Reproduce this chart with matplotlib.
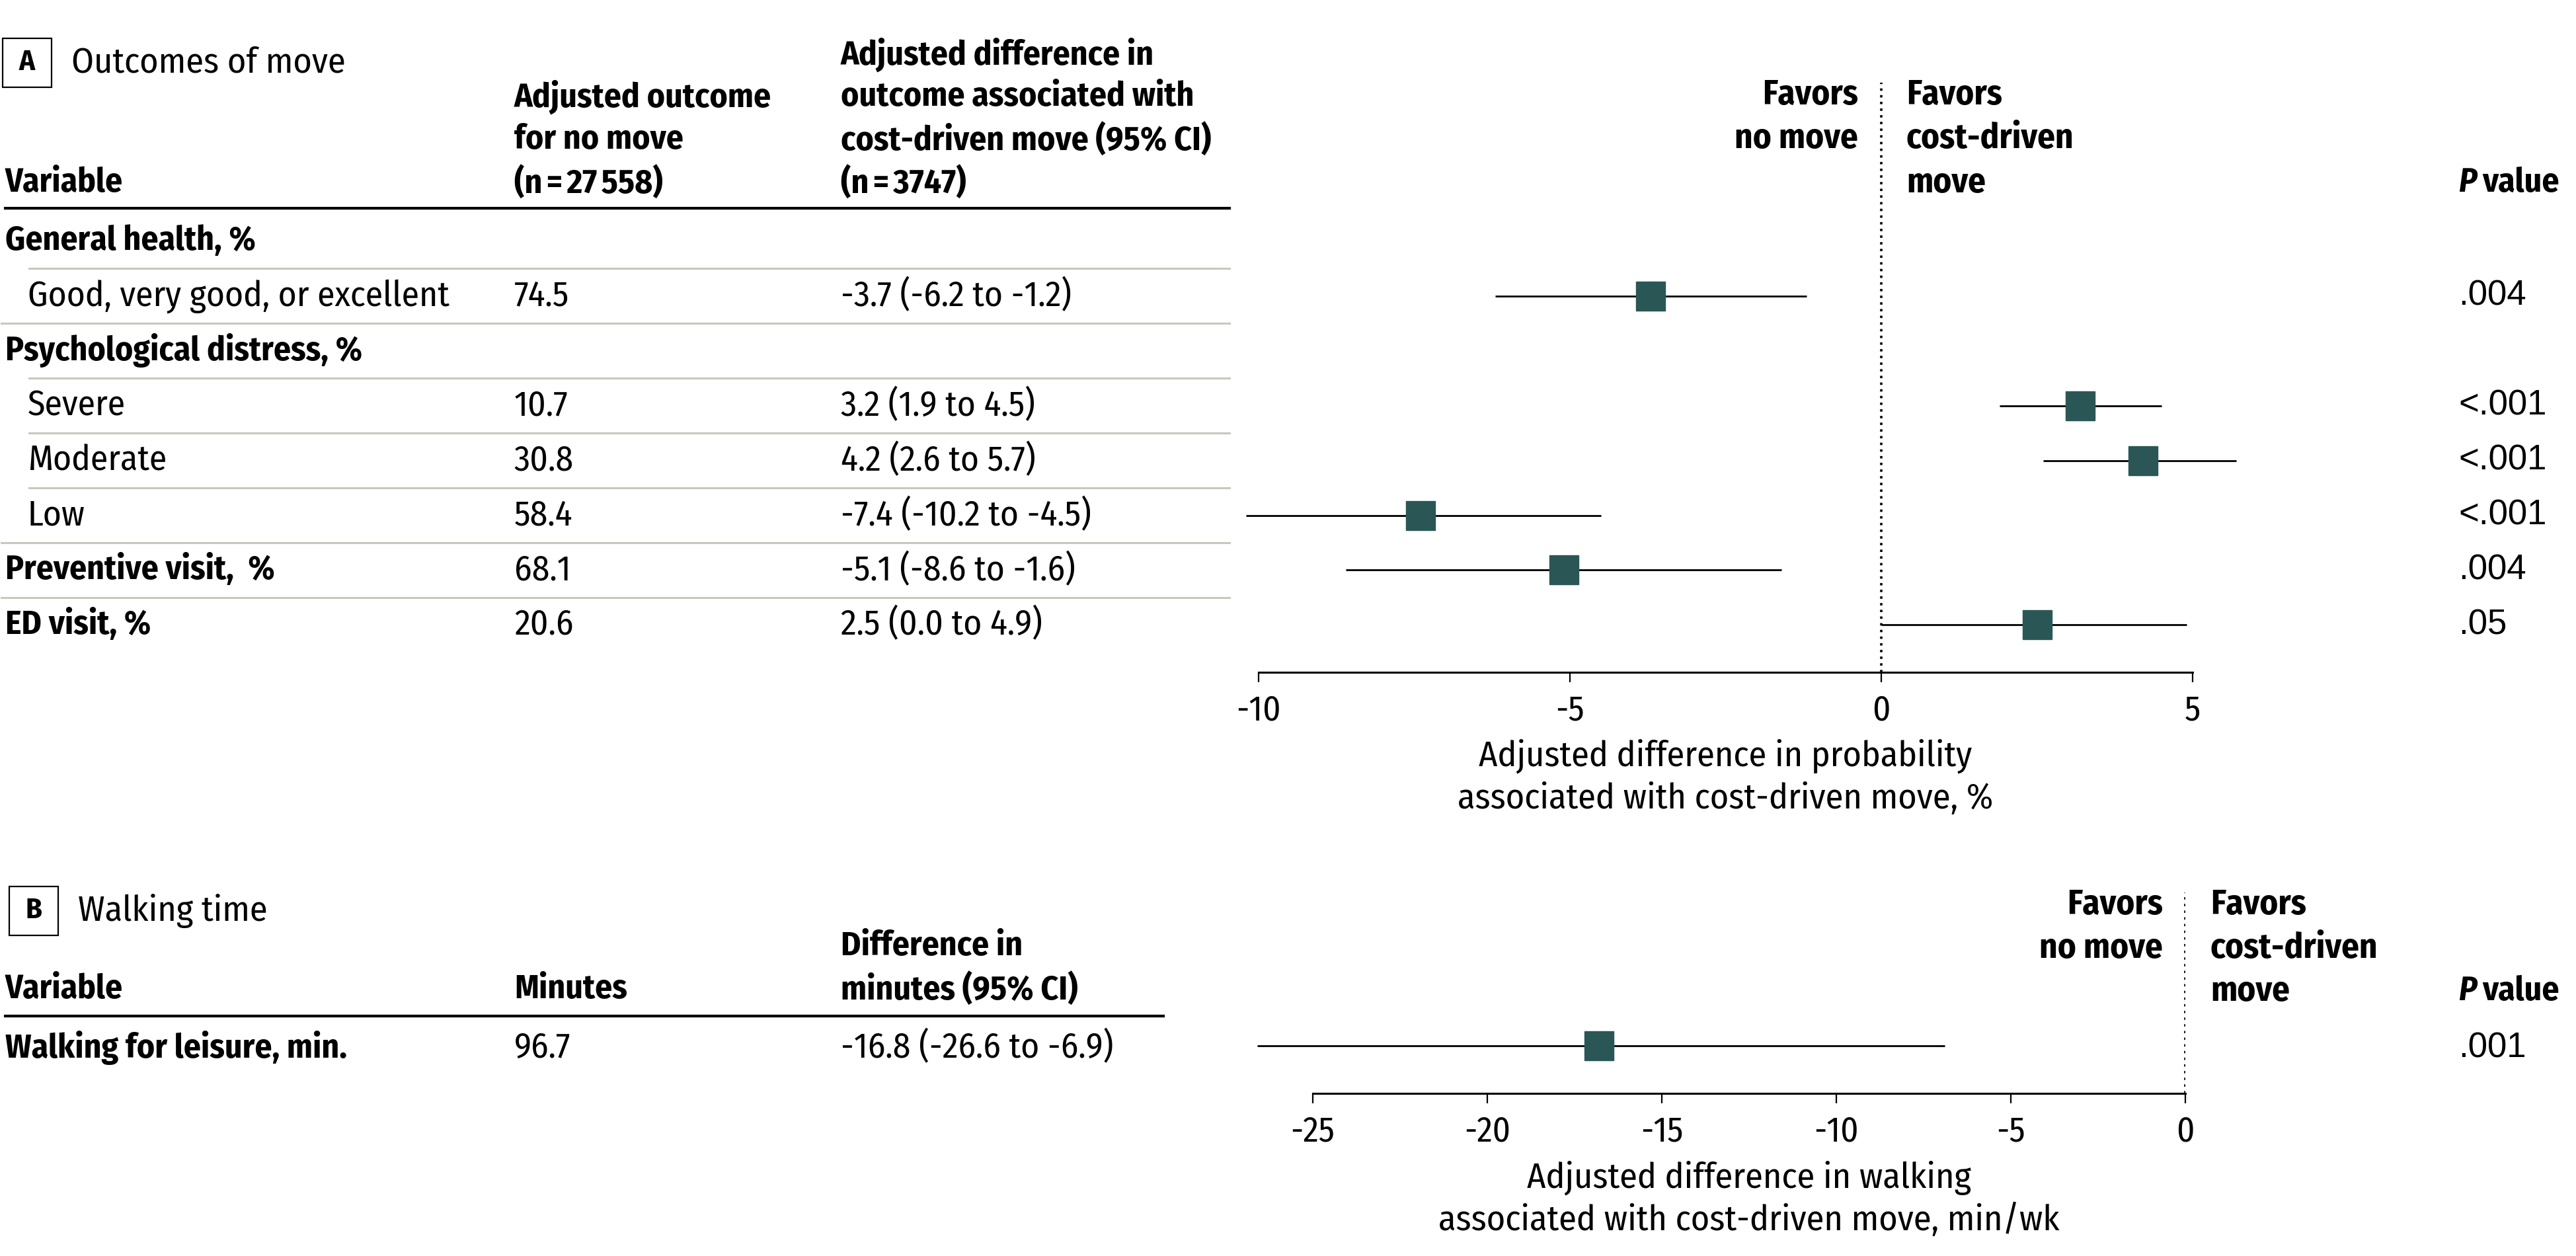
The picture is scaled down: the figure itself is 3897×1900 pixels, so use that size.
import numpy as np
import matplotlib
matplotlib.use("Agg")
import matplotlib.pyplot as plt
from matplotlib.patches import Rectangle

# panel A data
labels = ["General health, %", "Good, very good, or excellent", "Psychological distress, %",
          "Severe", "Moderate", "Low", "Preventive visit,  %", "ED visit, %"]
is_group = [True, False, True, False, False, False, True, True]
no_move = ["", "74.5", "", "10.7", "30.8", "58.4", "68.1", "20.6"]
est = [np.nan, -3.7, np.nan, 3.2, 4.2, -7.4, -5.1, 2.5]
lo = [np.nan, -6.2, np.nan, 1.9, 2.6, -10.2, -8.6, 0.0]
hi = [np.nan, -1.2, np.nan, 4.5, 5.7, -4.5, -1.6, 4.9]
pvals = ["", ".004", "", "<.001", "<.001", "<.001", ".004", ".05"]
ticks_a = [-10, -5, 0, 5]

# panel B data
walk_label = ["Walking for leisure, min."]
walk_min = ["96.7"]
walk_est = [-16.8]
walk_lo = [-26.6]
walk_hi = [-6.9]
walk_p = [".001"]
ticks_b = [-25, -20, -15, -10, -5, 0]

plt.rcParams['font.family'] = ['Fira Sans Condensed', 'Lato', 'DejaVu Sans']
plt.rcParams['axes.unicode_minus'] = False

W, H = 3898, 1900
fig = plt.figure(figsize=(W / 100, H / 100), dpi=100)

SQ = '#2a5755'
GRID = '#c6c9bd'
PFONT = ['Liberation Sans', 'DejaVu Sans']
ROW = 38.5      # regular row text
ROWB = 37       # bold row text
HEAD = 37       # column headers
FAV = 38
PSIZE = 38


def put(x, y, s, **kw):
    kw.setdefault('va', 'center')
    return fig.text(x / W, 1 - y / H, s, **kw)


def hline(x0, x1, y, **kw):
    fig.add_artist(plt.Line2D([x0 / W, x1 / W], [1 - y / H, 1 - y / H],
                              transform=fig.transFigure, **kw))


def panel_box(x, y, letter, title):
    fig.add_artist(Rectangle((x / W, 1 - (y + 74) / H), 74 / W, 74 / H, fill=False,
                             lw=1.6, ec='black', transform=fig.transFigure))
    put(x + 37, y + 37, letter, ha='center', fontsize=32, fontweight='bold')
    put(x + 104, y + 37, title, fontsize=39)


def p_header(x, y):
    t = put(x, y, "P", fontsize=HEAD, fontweight='bold', fontstyle='italic')
    r = fig.canvas.get_renderer()
    w = t.get_window_extent(r).width
    put(x + w + 9, y, "value", fontsize=HEAD, fontweight='bold')


def forest_axes(left, right, top, bottom, xlim, ylim, ticks):
    ax = fig.add_axes([left / W, 1 - bottom / H, (right - left) / W, (bottom - top) / H])
    ax.set_xlim(*xlim)
    ax.set_ylim(*ylim)
    for s in ['top', 'right', 'left']:
        ax.spines[s].set_visible(False)
    ax.spines['bottom'].set_linewidth(2.2)
    ax.set_yticks([])
    ax.set_xticks(ticks)
    ax.tick_params(axis='x', length=11, width=1.6, pad=12, labelsize=38)
    ax.axvline(0, color='black', lw=2.6, linestyle=(0, (1, 1.8)))
    ax.patch.set_alpha(0)
    return ax


# ---------------- panel A ----------------
panel_box(4, 58, "A", "Outcomes of move")
c1, c2, c3 = 8, 778, 1272
put(c1, 277, "Variable", fontsize=HEAD, fontweight='bold')
for yy, s in zip([147, 212, 277], ["Adjusted outcome", "for no move", "(n\u2009=\u200927\u2009558)"]):
    put(c2, yy, s, fontsize=HEAD, fontweight='bold')
for yy, s in zip([83, 147, 212, 277], ["Adjusted difference in", "outcome associated with",
                                       "cost-driven move (95% CI)", "(n\u2009=\u20093747)"]):
    put(c3, yy, s, fontsize=HEAD, fontweight='bold')
for yy, s in zip([144, 210], ["Favors", "no move"]):
    put(2811, yy, s, ha='right', fontsize=FAV, fontweight='bold')
for yy, s in zip([144, 210, 277], ["Favors", "cost-driven", "move"]):
    put(2884, yy, s, fontsize=FAV, fontweight='bold')
p_header(3719, 277)
hline(8, 1860, 315, color='black', lw=3)

y0, dy = 365, 82.9
for i, lab in enumerate(labels):
    y = y0 + dy * i
    if is_group[i]:
        put(c1, y, lab, fontsize=ROWB, fontweight='bold')
    else:
        put(c1 + 34, y, lab, fontsize=ROW)
    put(c2, y, no_move[i], fontsize=ROW)
    if not np.isnan(est[i]):
        put(c3, y, f"{est[i]:.1f} ({lo[i]:.1f} to {hi[i]:.1f})", fontsize=ROW)
    put(3719, y, pvals[i], fontsize=PSIZE, family=PFONT)
    if i < len(labels) - 1:
        x0 = 44 if (not is_group[i + 1]) else 2
        hline(x0, 1860, y + dy / 2, color=GRID, lw=2.2)

axA = forest_axes(1904, 3317, 125, 1017, (-10, 5),
                  ((1017 - y0) / dy, (125 - y0) / dy), ticks_a)
rows = np.arange(len(labels))
ok = ~np.isnan(est)
axA.hlines(rows[ok], np.array(lo)[ok], np.array(hi)[ok], color='black', lw=2.0, clip_on=False)
axA.plot(np.array(est)[ok], rows[ok], 's', ms=31, color=SQ, mec=SQ, clip_on=False)
put(2610, 1144, "Adjusted difference in probability", ha='center', fontsize=39)
put(2610, 1208, "associated with cost-driven move, %", ha='center', fontsize=39)

# ---------------- panel B ----------------
panel_box(14, 1341, "B", "Walking time")
put(c1, 1497, "Variable", fontsize=HEAD, fontweight='bold')
put(c2, 1497, "Minutes", fontsize=HEAD, fontweight='bold')
put(c3, 1432, "Difference in", fontsize=HEAD, fontweight='bold')
put(c3, 1497, "minutes (95% CI)", fontsize=HEAD, fontweight='bold')
for yy, s in zip([1369, 1435], ["Favors", "no move"]):
    put(3272, yy, s, ha='right', fontsize=FAV, fontweight='bold')
for yy, s in zip([1369, 1435, 1500], ["Favors", "cost-driven", "move"]):
    put(3344, yy, s, fontsize=FAV, fontweight='bold')
p_header(3719, 1500)
hline(8, 1760, 1537, color='black', lw=3)

yb = 1585
for i in range(len(walk_label)):
    put(c1, yb, walk_label[i], fontsize=ROWB, fontweight='bold')
    put(c2, yb, walk_min[i], fontsize=ROW)
    put(c3, yb, f"{walk_est[i]:.1f} ({walk_lo[i]:.1f} to {walk_hi[i]:.1f})", fontsize=ROW)
    put(3719, yb, walk_p[i], fontsize=PSIZE, family=PFONT)

axB = forest_axes(1986, 3306, 1350, 1654, (-25, 0),
                  ((1654 - 1582) / dy, (1350 - 1582) / dy), ticks_b)
rb = np.arange(len(walk_est))
axB.hlines(rb, walk_lo, walk_hi, color='black', lw=2.0, clip_on=False)
axB.plot(walk_est, rb, 's', ms=31, color=SQ, mec=SQ, clip_on=False)
put(2646, 1782, "Adjusted difference in walking", ha='center', fontsize=39)
put(2646, 1846, "associated with cost-driven move, min/wk", ha='center', fontsize=39)

fig.savefig("out.png", dpi=100)
